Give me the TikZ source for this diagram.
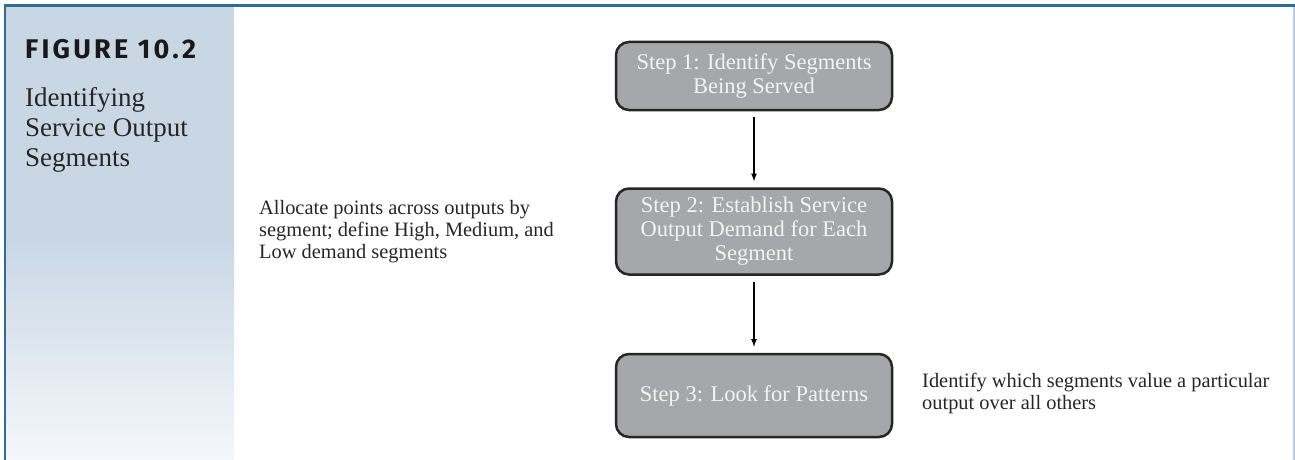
\documentclass[tikz,border=0pt]{standalone}
\usepackage{fontspec}
\usepackage{tikz}
\usetikzlibrary{positioning}
\newfontfamily\stepfont{Liberation Serif}
\newfontfamily\titlefont[LetterSpace=12]{Fira Sans}
\definecolor{frameblue}{RGB}{46,110,150}
\definecolor{edgeblue}{RGB}{169,207,224}
\definecolor{panelblue}{RGB}{201,215,229}
\definecolor{panelfade}{RGB}{244,247,250}
\definecolor{stepgray}{RGB}{166,167,171}
\definecolor{steptext}{RGB}{243,243,243}
\tikzset{
  stepbox/.style={draw=black!85, line width=2.5pt, rounded corners=13pt, fill=stepgray,
    text=steptext, minimum width=276pt, align=center,
    font=\stepfont\fontsize{22.5}{24}\selectfont},
  notetext/.style={align=left, inner sep=0pt, text=black!85,
    font=\stepfont\fontsize{20.4}{22}\selectfont},
}

\begin{document}
\begin{tikzpicture}[x=1pt, y=-1pt]
\useasboundingbox (0,0) rectangle (1295,460);
% side panel
\fill[panelblue] (6,7) rectangle (234,240);
\shade[top color=panelblue, bottom color=panelfade] (6,240) rectangle (234,460);
\draw[frameblue, line width=2.6pt] (4,5.8) -- (1295,5.8);
\draw[frameblue, line width=2.6pt] (5,4.5) -- (5,460);
\draw[edgeblue, line width=1.5pt] (1294,7) -- (1294,460);
\node[anchor=base west, inner sep=0pt, text=black!90,
  font=\titlefont\bfseries\fontsize{27}{27}\selectfont] (figtag) at (25,59) {FIGURE 10.2};
\node[anchor=north west, inner sep=0pt, align=left, text=black!85,
  font=\stepfont\fontsize{27}{30}\selectfont] (figname) at (25,87) {Identifying\\Service Output\\Segments};

% steps
\node[stepbox, minimum height=68pt] (step1) at (754,76) {Step 1: Identify Segments\\Being Served};
\node[stepbox, minimum height=86pt, below=76pt of step1] (step2) {Step 2: Establish Service\\Output Demand for Each\\Segment};
\node[stepbox, minimum height=83pt, below=77pt of step2] (step3) {Step 3: Look for Patterns};
\draw[-latex, line width=1.6pt, shorten <=6pt, shorten >=6pt] (step1) -- (step2);
\draw[-latex, line width=1.6pt, shorten <=6pt, shorten >=6pt] (step2) -- (step3);

% notes
\node[notetext, anchor=west] (note2) at (259,232) {Allocate points across outputs by\\segment; define High, Medium, and\\Low demand segments};
\node[notetext, anchor=west] (note3) at (922,393) {Identify which segments value a particular\\output over all others};
\end{tikzpicture}
\end{document}
